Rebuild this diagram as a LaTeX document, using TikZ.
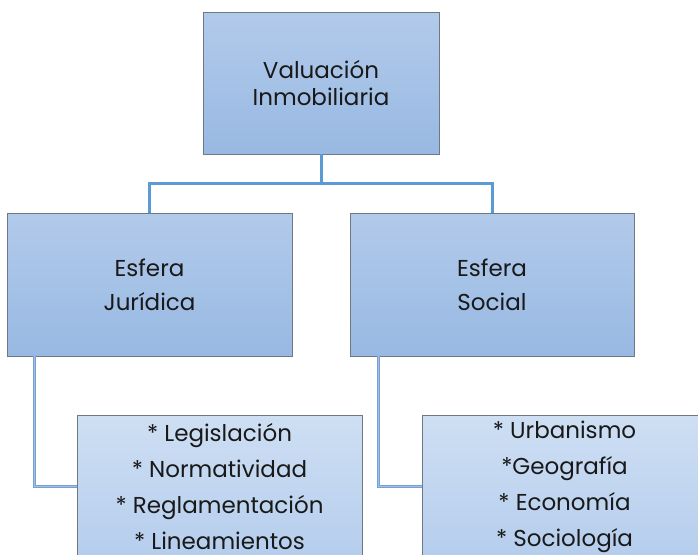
\documentclass[tikz,border=0pt]{standalone}
\usepackage{fontspec}
\setmainfont{Poppins}
\usetikzlibrary{positioning, shadows}
\definecolor{boxedge}{RGB}{112,120,132}
\definecolor{maintop}{RGB}{178,202,234}
\definecolor{mainbot}{RGB}{152,185,227}
\definecolor{subtop}{RGB}{206,223,243}
\definecolor{subbot}{RGB}{181,205,237}
\definecolor{trunk}{RGB}{91,155,213}
\definecolor{branch}{RGB}{160,192,232}
\definecolor{branchedge}{RGB}{120,160,210}

\begin{document}
\begin{tikzpicture}[x=1pt, y=-1pt,
	box/.style={draw=boxedge, line width=0.8pt, top color=maintop, bottom color=mainbot,
		align=center, inner sep=0pt, text=black!90,
		drop shadow={opacity=0.25, shadow xshift=1pt, shadow yshift=-1pt}},
	listbox/.style={box, top color=subtop, bottom color=subbot},
	trunkline/.style={draw=trunk, line width=3pt},
	branchline/.style={draw=branchedge, double=branch, double distance=1.6pt, line width=0.6pt}]

		\useasboundingbox (0,0) rectangle (698,554);
		\clip (0,0) rectangle (698,554);

		% nodes %
		\node[box, minimum width=236pt, minimum height=142pt, font=\fontsize{23}{27}\selectfont] (val) at (321,83) {Valuación\\Inmobiliaria};
		\node[box, minimum width=285pt, minimum height=143pt, font=\fontsize{23}{34}\selectfont] (jur) at (149.5,284.5) {Esfera\\Jurídica};
		\node[box, minimum width=284pt, minimum height=143pt, font=\fontsize{23}{34}\selectfont] (soc) at (492,284.5) {Esfera\\Social};
		\node[listbox, minimum width=285pt, minimum height=143pt, font=\fontsize{23}{36}\selectfont] (leg) at (219.5,486.5)
			{* Legislación\\* Normatividad\\* Reglamentación\\* Lineamientos};
		\node[listbox, minimum width=285pt, minimum height=143pt, font=\fontsize{23}{36}\selectfont] (urb) at (564.5,486.5)
			{* Urbanismo\\*Geografía\\* Economía\\* Sociología};
		\coordinate (bus) at (321,183);

		% edges %
		\draw[trunkline] (val.south) -- (bus);
		\draw[trunkline] (jur.north) |- (bus) -| (soc.north);
		\draw[branchline] ([xshift=28pt]jur.south west) |- (leg.west);
		\draw[branchline] ([xshift=29pt]soc.south west) |- (urb.west);
		\end{tikzpicture}
\end{document}
